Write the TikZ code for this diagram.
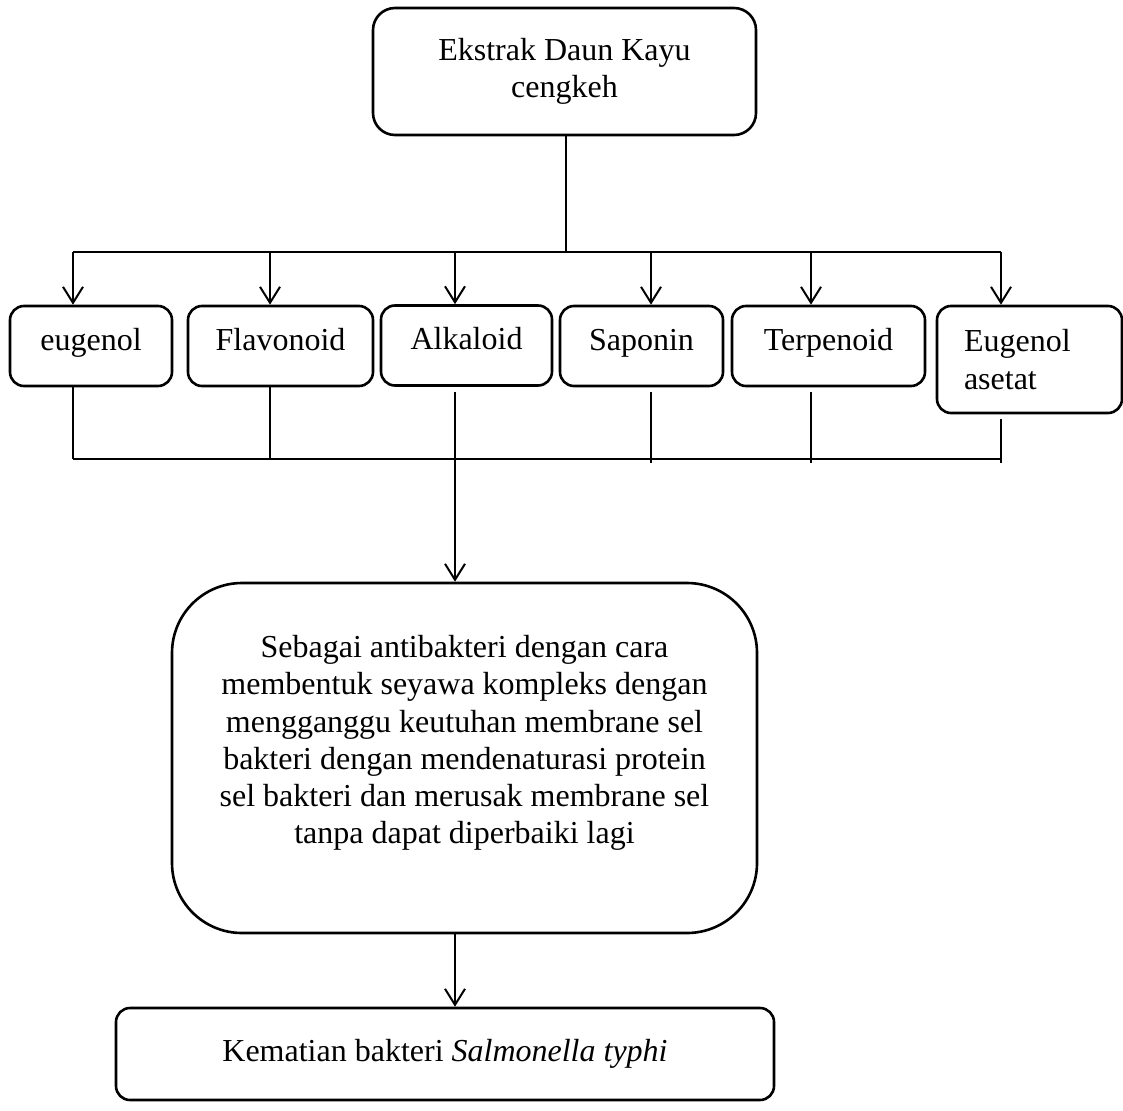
\documentclass[tikz,border=0pt]{standalone}
\usepackage{fontspec}
\setmainfont{Liberation Serif}
\usetikzlibrary{arrows.meta}

\begin{document}
\begin{tikzpicture}[x=1pt, y=-1pt,
  box/.style={draw, line width=2.6pt, rounded corners=14pt, inner sep=0pt, align=center, font=\fontsize{32}{37.2}\selectfont},
  item/.style={box, minimum height=80pt, text height=19pt, text depth=11pt},
  txt/.style={inner sep=0pt, align=center, font=\fontsize{32}{37.2}\selectfont},
  link/.style={line width=1.3pt},
  arr/.style={line width=2pt, -{Straight Barb[length=16pt,width=20pt]}}]
  \useasboundingbox (0,0) rectangle (1123,1110);

  % top box
  \node[box, minimum width=383pt, minimum height=127pt, rounded corners=22pt] (ekstrak) at (564.5,71.5) {Ekstrak Daun Kayu\\cengkeh};

  % compounds
  \node[item, minimum width=162pt] (eugenol) at (91,346) {eugenol};
  \node[item, minimum width=185pt] (flavonoid) at (280.5,346) {Flavonoid};
  \node[item, minimum width=171pt] (alkaloid) at (466.5,345.5) {Alkaloid};
  \node[item, minimum width=163pt] (saponin) at (641.5,346) {Saponin};
  \node[item, minimum width=193pt] (terpenoid) at (828.5,346) {Terpenoid};
  \node[box, align=left, text width=131pt, inner xsep=27pt, minimum height=107pt] (asetat) at (1029.5,359.5) {Eugenol\\asetat};

  % action and result
  \node[box, minimum width=585pt, minimum height=350pt, rounded corners=70pt] (aksi) at (464.5,758) {};
  \node[txt] (aksiText) at (464.5,743) {Sebagai antibakteri dengan cara\\membentuk seyawa kompleks dengan\\mengganggu keutuhan membrane sel\\bakteri dengan mendenaturasi protein\\sel bakteri dan merusak membrane sel\\tanpa dapat diperbaiki lagi};
  \node[box, minimum width=658pt, minimum height=92pt] (hasil) at (445,1054) {Kematian bakteri \textit{Salmonella typhi}};

  % upper bus
  \coordinate (busTop) at (566,252);
  \draw[link] (ekstrak.south -| busTop) -- (busTop);
  \draw[link] (73,252) -- (1001,252);
  \foreach \n/\x in {eugenol/73, flavonoid/270, alkaloid/455, saponin/651, terpenoid/811, asetat/1001}
    \draw[arr] (\x,252) -- (\x,0 |- \n.north);

  % lower bus
  \draw[link] (eugenol.south -| 73,0) -- (73,459);
  \draw[link] (flavonoid.south -| 270,0) -- (270,459);
  \draw[link] ([yshift=-5pt]alkaloid.south -| 455,0) -- (455,459);
  \draw[link] ([yshift=-5pt]saponin.south -| 651,0) -- (651,463);
  \draw[link] ([yshift=-5pt]terpenoid.south -| 811,0) -- (811,463);
  \draw[link] ([yshift=-5pt]asetat.south -| 1001,0) -- (1001,463);
  \draw[link] (73,459) -- (1001,459);

  \coordinate (busLow) at (455,459);
  \draw[arr] (busLow) -- (aksi.north -| busLow);
  \draw[arr] (aksi.south -| busLow) -- (hasil.north -| busLow);
\end{tikzpicture}
\end{document}
